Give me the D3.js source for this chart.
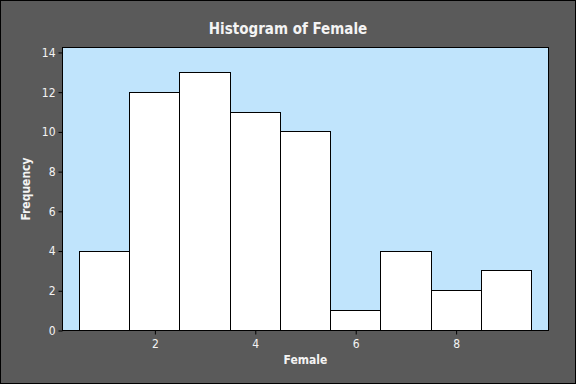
<!DOCTYPE html>
<html>
<meta charset="utf-8">
<style>
body { margin: 0; padding: 0; background: #5a5a5a; }
text { font-family: "DejaVu Sans Condensed", "DejaVu Sans", sans-serif; fill: #f4f4f4; }
</style>
<script src="https://d3js.org/d3.v7.min.js"></script>
<body>
<div id="my_dataviz"></div>
<script>
// bin midpoints and counts
var binMids = [1, 2, 3, 4, 5, 6, 7, 8, 9];
var counts = [4, 12, 13, 11, 10, 1, 4, 2, 3];
var xTicks = [2, 4, 6, 8];
var yTicks = [0, 2, 4, 6, 8, 10, 12, 14];
var binWidth = 1;

var W = 576, H = 384;
var margin = {top: 47.5, right: 27.5, bottom: 53.5, left: 62.5};
var width = W - margin.left - margin.right,
    height = H - margin.top - margin.bottom;

var svg = d3.select("#my_dataviz")
  .append("svg")
    .attr("width", W)
    .attr("height", H)
    .style("display", "block");

// outer frame
svg.append("rect")
  .attr("x", 0.5).attr("y", 0.5)
  .attr("width", W - 1).attr("height", H - 1)
  .attr("fill", "#5a5a5a")
  .attr("stroke", "#000");

var g = svg.append("g")
  .attr("transform", "translate(" + margin.left + "," + margin.top + ")");

var x = d3.scaleLinear()
  .domain([0.16, 9.84])
  .range([0, width]);

var y = d3.scaleLinear()
  .domain([0, 14.25])
  .range([height, 0]);

// plot area
g.append("rect")
  .attr("width", width)
  .attr("height", height)
  .attr("fill", "#c0e4fc")
  .attr("stroke", "#000");

// bars
g.selectAll("rect.bar")
  .data(binMids)
  .enter()
  .append("rect")
    .attr("class", "bar")
    .attr("x", function(d) { return Math.round(x(d - binWidth / 2)); })
    .attr("width", function(d) { return Math.round(x(d + binWidth / 2)) - Math.round(x(d - binWidth / 2)); })
    .attr("y", function(d, i) { return Math.round(y(counts[i])); })
    .attr("height", function(d, i) { return height - Math.round(y(counts[i])); })
    .attr("fill", "#fff")
    .attr("stroke", "#000")
    .attr("stroke-width", 1);

// axes
var xAxis = g.append("g")
  .attr("transform", "translate(0," + height + ")")
  .call(d3.axisBottom(x).tickValues(xTicks).tickSize(4).tickPadding(5).tickFormat(d3.format("d")));
var yAxis = g.append("g")
  .call(d3.axisLeft(y).tickValues(yTicks).tickSize(4).tickPadding(3).tickFormat(d3.format("d")));

[xAxis, yAxis].forEach(function(a) {
  a.select(".domain").remove();
  a.selectAll(".tick line").attr("stroke", "#000");
  a.selectAll(".tick text").attr("fill", "#f4f4f4").style("font-size", "12px")
    .style("font-family", "\"DejaVu Sans Condensed\", \"DejaVu Sans\", sans-serif");
});

// titles
svg.append("text")
  .attr("x", 288).attr("y", 34)
  .attr("text-anchor", "middle")
  .style("font-size", "15px").style("font-weight", "bold")
  .text("Histogram of Female");

svg.append("text")
  .attr("x", margin.left + width / 2).attr("y", 364)
  .attr("text-anchor", "middle")
  .style("font-size", "12px").style("font-weight", "bold")
  .text("Female");

svg.append("text")
  .attr("transform", "translate(30,189) rotate(-90)")
  .attr("text-anchor", "middle")
  .style("font-size", "12px").style("font-weight", "bold")
  .text("Frequency");
</script>
</body>
</html>
